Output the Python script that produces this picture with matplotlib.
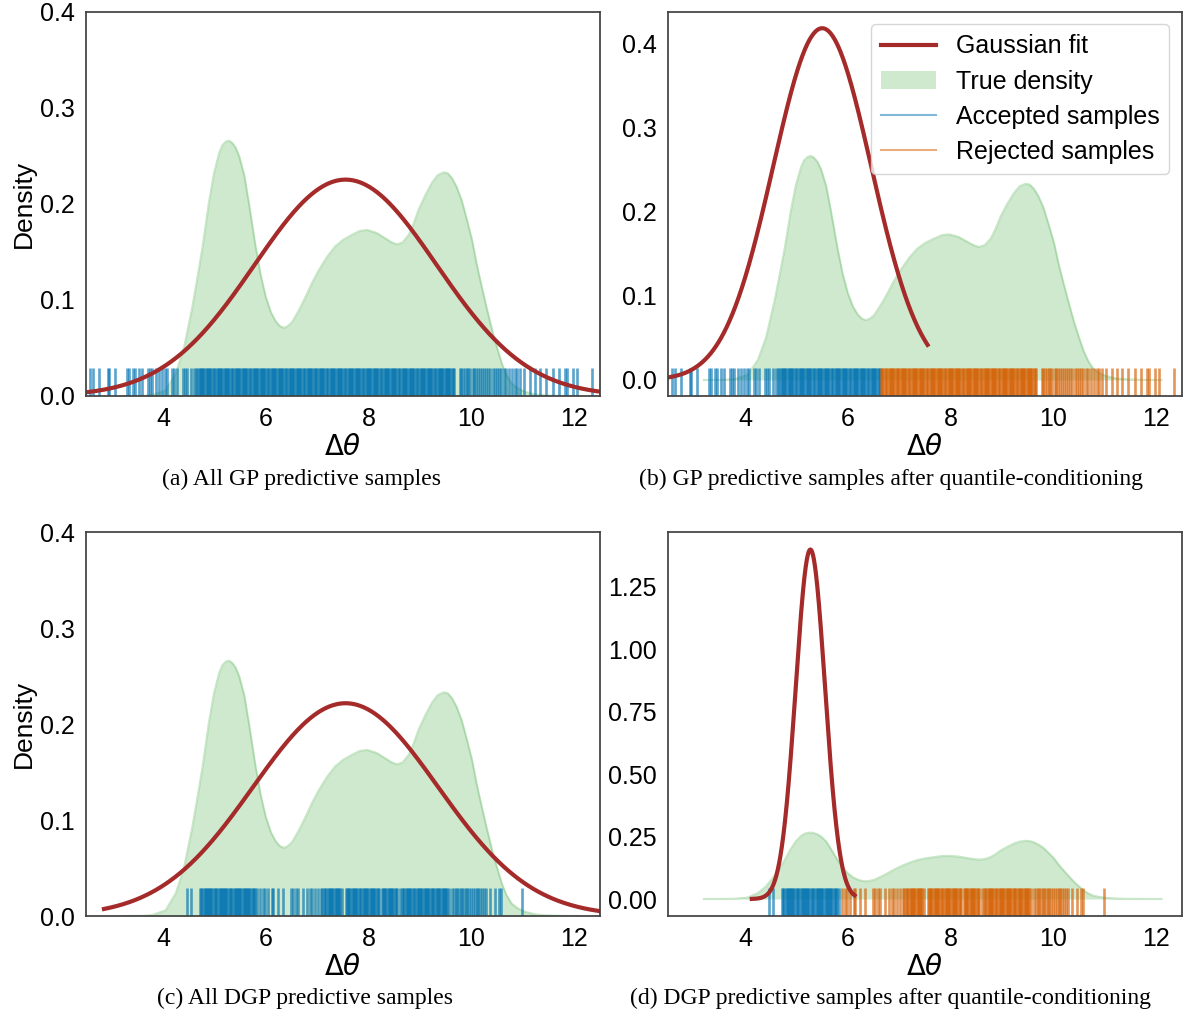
"""
Квантильное обусловливание предсказаний GP и DGP:
плотность, гауссова аппроксимация и принятые/отклонённые выборки.
"""
import numpy as np
import matplotlib
matplotlib.use('Agg')
import matplotlib.pyplot as plt
from matplotlib.lines import Line2D
from matplotlib.patches import Patch

# истинная плотность
true_x = [3.2, 3.6, 3.79, 4.05, 4.25, 4.41, 4.57, 4.67, 4.77, 4.89, 4.99, 5.09, 5.15, 5.22,
          5.28, 5.34, 5.41, 5.48, 5.58, 5.67, 5.80, 5.90, 6.00, 6.10, 6.19, 6.27, 6.35, 6.43,
          6.51, 6.64, 6.77, 6.90, 7.03, 7.19, 7.35, 7.51, 7.68, 7.83, 7.97, 8.15, 8.33, 8.45,
          8.55, 8.66, 8.78, 8.87, 8.97, 9.10, 9.23, 9.34, 9.46, 9.54, 9.62, 9.71, 9.81, 9.91,
          10.01, 10.10, 10.20, 10.30, 10.40, 10.50, 10.59, 10.68, 10.78, 10.90, 11.04, 11.23,
          11.43, 11.8, 12.1]
true_y = [0.0, 0.0002, 0.001, 0.006, 0.024, 0.051, 0.093, 0.124, 0.156, 0.201, 0.232, 0.253,
          0.261, 0.265, 0.266, 0.264, 0.259, 0.250, 0.230, 0.201, 0.156, 0.126, 0.103, 0.087,
          0.078, 0.073, 0.071, 0.073, 0.077, 0.089, 0.103, 0.118, 0.131, 0.145, 0.156, 0.163,
          0.168, 0.172, 0.173, 0.170, 0.164, 0.160, 0.158, 0.160, 0.168, 0.179, 0.194, 0.209,
          0.222, 0.230, 0.233, 0.232, 0.227, 0.218, 0.204, 0.184, 0.163, 0.138, 0.114, 0.091,
          0.069, 0.050, 0.034, 0.022, 0.013, 0.008, 0.0045, 0.0018, 0.0007, 0.0001, 0.0]

# выборки предсказаний GP
gp_samples = [
    2.58, 2.63, 2.76, 2.92, 2.95, 3.07, 3.29, 3.33, 3.41, 3.46, 3.54, 3.59, 3.70, 3.74, 3.79,
    3.86, 3.92, 3.98, 4.04, 4.07, 4.17, 4.22, 4.28, 4.38, 4.43, 4.47, 4.55, 4.60,
    4.64, 4.66, 4.69, 4.71, 4.73, 4.76, 4.78, 4.80, 4.83, 4.85, 4.87, 4.90, 4.92, 4.94, 4.97, 4.99,
    5.01, 5.04, 5.06, 5.08, 5.11, 5.13, 5.15, 5.18, 5.20, 5.22, 5.25, 5.27, 5.29, 5.32, 5.34,
    5.36, 5.39, 5.41, 5.43, 5.46, 5.48, 5.50, 5.53, 5.55, 5.57, 5.60, 5.62, 5.64, 5.67, 5.69,
    5.71, 5.74, 5.76, 5.78, 5.81, 5.83, 5.85, 5.88, 5.90, 5.92, 5.95, 5.97, 5.99,
    6.02, 6.04, 6.06, 6.09, 6.11, 6.13, 6.16, 6.18, 6.20, 6.23, 6.25, 6.27, 6.30, 6.32, 6.34,
    6.37, 6.39, 6.41, 6.44, 6.46, 6.48, 6.51, 6.53, 6.55, 6.58, 6.60, 6.62, 6.65, 6.67, 6.69,
    6.72, 6.74, 6.76, 6.79, 6.81, 6.83, 6.86, 6.88, 6.90, 6.93, 6.95, 6.97,
    7.00, 7.03, 7.05, 7.07, 7.10, 7.12, 7.14, 7.17, 7.19, 7.21, 7.24, 7.26, 7.28, 7.31, 7.33,
    7.35, 7.38, 7.40, 7.42, 7.45, 7.47, 7.49, 7.52, 7.54, 7.56, 7.59, 7.61, 7.63, 7.66, 7.68,
    7.70, 7.73, 7.75, 7.77, 7.80, 7.82, 7.84, 7.87, 7.89, 7.91, 7.94, 7.96, 7.98,
    8.01, 8.03, 8.05, 8.08, 8.10, 8.12, 8.15, 8.17, 8.19, 8.22, 8.24, 8.26, 8.29, 8.31, 8.33,
    8.36, 8.38, 8.40, 8.43, 8.45, 8.47, 8.50, 8.52, 8.54, 8.57, 8.59, 8.61, 8.64, 8.66, 8.68,
    8.71, 8.73, 8.75, 8.78, 8.80, 8.82, 8.85, 8.87, 8.89, 8.92, 8.94, 8.96, 8.99,
    9.01, 9.03, 9.06, 9.08, 9.10, 9.13, 9.15, 9.17, 9.20, 9.22, 9.24, 9.27, 9.29, 9.31, 9.34,
    9.36, 9.38, 9.41, 9.43, 9.45, 9.48, 9.50, 9.52, 9.55, 9.57, 9.59, 9.62, 9.64, 9.66,
    9.77, 9.80, 9.84, 9.87, 9.91, 9.94, 9.98, 10.02, 10.05, 10.09, 10.13, 10.16, 10.21, 10.24,
    10.29, 10.33, 10.36, 10.41, 10.45, 10.49, 10.54, 10.58, 10.63, 10.67, 10.73, 10.78, 10.84,
    10.89, 10.94,
    11.03, 11.13, 11.24, 11.33, 11.45, 11.58, 11.71, 11.81, 11.85, 11.97, 12.06, 12.35]
gp_threshold = 6.64

# выборки предсказаний DGP
dgp_samples = [
    4.46, 4.54,
    4.72, 4.74, 4.76, 4.79, 4.81, 4.83, 4.85, 4.87, 4.90, 4.92, 4.94, 4.96, 4.99, 5.01, 5.03,
    5.05, 5.08, 5.10, 5.12, 5.14, 5.16, 5.19, 5.21, 5.23, 5.25, 5.28, 5.30, 5.32, 5.34, 5.37,
    5.39, 5.41, 5.43, 5.46, 5.48, 5.50, 5.52, 5.55, 5.57, 5.59, 5.61, 5.64, 5.66, 5.68, 5.70,
    5.73, 5.75, 5.77, 5.79, 5.82,
    5.88, 5.94, 5.98, 6.04, 6.11, 6.13, 6.24, 6.34, 6.49, 6.53, 6.58, 6.63, 6.72, 6.79, 6.86,
    6.90, 6.95, 7.01,
    7.08, 7.10, 7.13, 7.15, 7.17, 7.20, 7.22, 7.24, 7.27, 7.29, 7.31, 7.34, 7.36, 7.38, 7.41,
    7.43, 7.45, 7.49, 7.55, 7.57, 7.60, 7.62, 7.64, 7.67, 7.69, 7.71, 7.74, 7.76, 7.78, 7.81,
    7.83, 7.85, 7.88, 7.90, 7.92, 7.95, 7.97, 7.99,
    8.02, 8.04, 8.06, 8.09, 8.11, 8.13, 8.16, 8.18, 8.21, 8.25, 8.27, 8.30, 8.32, 8.34, 8.37,
    8.39, 8.41, 8.44, 8.46, 8.48, 8.51, 8.53, 8.55, 8.60, 8.65, 8.67, 8.69, 8.72, 8.74, 8.76,
    8.79, 8.81, 8.83, 8.86, 8.88, 8.90, 8.93, 8.95, 8.97,
    9.00, 9.02, 9.04, 9.07, 9.09, 9.11, 9.14, 9.16, 9.18, 9.21, 9.23, 9.25, 9.28, 9.30, 9.32,
    9.35, 9.37, 9.39, 9.42, 9.44, 9.46, 9.49, 9.51, 9.53, 9.56,
    9.63, 9.66, 9.69, 9.72, 9.75, 9.79, 9.82, 9.86, 9.89, 9.92, 9.96, 9.99, 10.03, 10.06,
    10.10, 10.13, 10.17, 10.21, 10.25,
    10.29, 10.36, 10.45, 10.54, 10.58, 10.99]
dgp_threshold = 5.85

# параметры гауссовой аппроксимации: (a), (b), (c), (d)
fit_mean = [7.55, 5.50, 7.55, 5.27]
fit_std = [1.77, 0.955, 1.80, 0.285]
fit_start = [2.4, 2.5, 2.85, 4.13]
fit_end = [12.6, 7.55, 12.6, 6.13]

captions = ["(a) All GP predictive samples",
            "(b) GP predictive samples after quantile-conditioning",
            "(c) All DGP predictive samples",
            "(d) DGP predictive samples after quantile-conditioning"]

FIT_COLOR = '#a52a2a'
DENS_COLOR = '#2ca02c'
ACC_COLOR = '#0173b2'
REJ_COLOR = '#d55e00'

plt.rcParams['font.family'] = ['Liberation Sans', 'DejaVu Sans']
plt.rcParams['axes.edgecolor'] = '0.25'
plt.rcParams['axes.linewidth'] = 1.25

fig = plt.figure(figsize=(11.83, 10.15), dpi=100)
W, H = 1183, 1015
boxes = [(86, 12, 600, 396), (668, 12, 1182, 396), (86, 532, 600, 916), (668, 532, 1182, 916)]
axes = []
for (l, t, r, b) in boxes:
    axes.append(fig.add_axes([l / W, 1 - b / H, (r - l) / W, (b - t) / H]))


def draw_panel(ax, k, samples, threshold=None):
    ax.fill_between(true_x, true_y, 0, color=DENS_COLOR, alpha=0.23, lw=0)
    ax.plot(true_x, true_y, color=DENS_COLOR, alpha=0.25, lw=1.5)
    s = np.array(samples)
    trans = ax.get_xaxis_transform()
    rug = dict(transform=trans, alpha=0.65, lw=1.9)
    if threshold is None:
        ax.vlines(s, 0, 0.073, color=ACC_COLOR, **rug)
    else:
        ax.vlines(s[s < threshold], 0, 0.073, color=ACC_COLOR, **rug)
        ax.vlines(s[s >= threshold], 0, 0.073, color=REJ_COLOR, **rug)
    xs = np.linspace(fit_start[k], fit_end[k], 400)
    ys = np.exp(-0.5 * ((xs - fit_mean[k]) / fit_std[k]) ** 2) / (fit_std[k] * np.sqrt(2 * np.pi))
    ax.plot(xs, ys, color=FIT_COLOR, lw=3)
    ax.set_xlim(2.5, 12.5)
    ax.set_xticks([4, 6, 8, 10, 12])
    ax.tick_params(length=0, labelsize=18, pad=8)
    ax.set_xlabel(r'$\Delta\theta$', fontsize=20, labelpad=3)


draw_panel(axes[0], 0, gp_samples)
draw_panel(axes[1], 1, gp_samples, gp_threshold)
draw_panel(axes[2], 2, dgp_samples)
draw_panel(axes[3], 3, dgp_samples, dgp_threshold)

for ax in (axes[0], axes[2]):
    ax.set_ylim(0, 0.4)
    ax.set_yticks([0.0, 0.1, 0.2, 0.3, 0.4])
    ax.set_yticklabels(['0.0', '0.1', '0.2', '0.3', '0.4'])
    ax.set_ylabel('Density', fontsize=19, labelpad=3)

axes[1].set_ylim(-0.019, 0.437)
axes[1].set_yticks([0.0, 0.1, 0.2, 0.3, 0.4])
axes[1].set_yticklabels(['0.0', '0.1', '0.2', '0.3', '0.4'])

axes[3].set_ylim(-0.068, 1.47)
axes[3].set_yticks([0.0, 0.25, 0.5, 0.75, 1.0, 1.25])
axes[3].set_yticklabels(['0.00', '0.25', '0.50', '0.75', '1.00', '1.25'])

handles = [Line2D([], [], color=FIT_COLOR, lw=3),
           Patch(facecolor=DENS_COLOR, alpha=0.23, edgecolor='none'),
           Line2D([], [], color=ACC_COLOR, alpha=0.5, lw=1.5),
           Line2D([], [], color=REJ_COLOR, alpha=0.5, lw=1.5)]
labels = ['Gaussian fit', 'True density', 'Accepted samples', 'Rejected samples']
leg = axes[1].legend(handles, labels, loc='upper right', fontsize=18, frameon=True,
                     edgecolor='0.8', handlelength=2.2, borderaxespad=0.5, labelspacing=0.45)

cap_pos = [(301, 479), (891, 479), (305, 998), (891, 998)]
for (cx, cy), txt in zip(cap_pos, captions):
    fig.text(cx / W, 1 - cy / H, txt, ha='center', va='center', fontsize=17,
             family=['Liberation Serif', 'DejaVu Serif'])

plt.savefig('out.png', dpi=100)
